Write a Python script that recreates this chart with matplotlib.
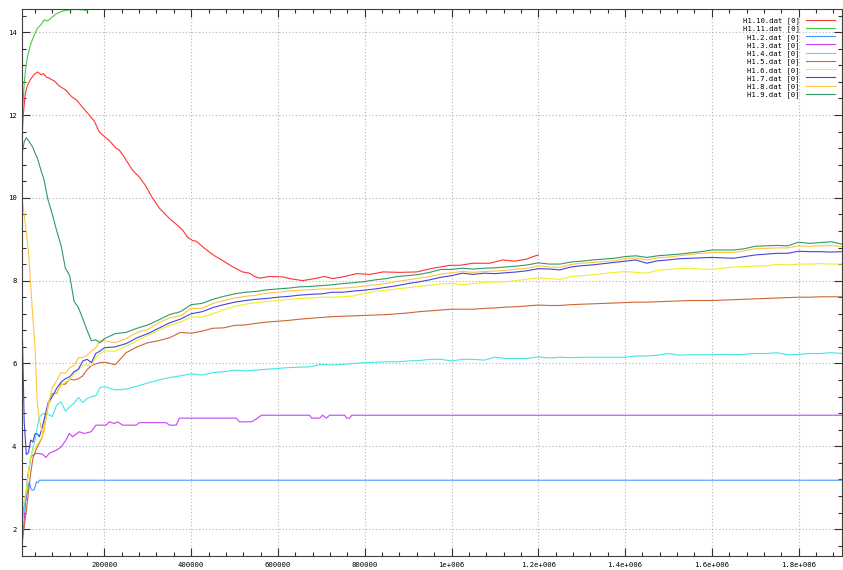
import numpy as np
import matplotlib
matplotlib.use("Agg")
import matplotlib.pyplot as plt
from matplotlib.ticker import MultipleLocator

# ---------------- data ----------------
# shared sampling grid for the bundle series
X = np.concatenate([np.arange(10000, 60001, 5000),
                    np.arange(70000, 200001, 10000),
                    np.arange(225000, 1900001, 25000)])

h17 = [7.15, 4.6, 3.8, 3.85, 4.15, 4.1, 4.3, 4.3, 4.23, 4.4, 4.6,
       5.05, 5.2, 5.4, 5.55, 5.63, 5.68, 5.8, 5.86, 6.06, 6.1, 6.02, 6.24, 6.3, 6.38,
       6.4, 6.48, 6.62, 6.72, 6.85, 6.98, 7.07, 7.2, 7.25, 7.35,
       7.42, 7.48, 7.52, 7.55, 7.57, 7.6, 7.62, 7.65, 7.67, 7.68,
       7.72, 7.72, 7.75, 7.77, 7.8, 7.84, 7.88, 7.93, 7.97, 8.02,
       8.08, 8.12,
       8.18, 8.15, 8.18, 8.17, 8.19, 8.21, 8.24, 8.29,
       8.28, 8.26, 8.33, 8.36, 8.38, 8.41, 8.44, 8.47,
       8.5, 8.42, 8.48, 8.5, 8.53, 8.54, 8.55, 8.56,
       8.55, 8.54, 8.58, 8.62, 8.64, 8.66, 8.66, 8.71,
       8.7, 8.7, 8.69, 8.7]

h19 = [11.05, 11.35, 11.45, 11.38, 11.3, 11.22, 11.08, 10.97, 10.8, 10.62, 10.47,
       9.95, 9.6, 9.2, 8.85, 8.3, 8.12, 7.5, 7.35, 7.08, 6.8, 6.55, 6.57, 6.5, 6.6,
       6.72, 6.75, 6.85, 6.93, 7.05, 7.18, 7.25, 7.42, 7.45, 7.55,
       7.62, 7.68, 7.72, 7.74, 7.78, 7.8, 7.82, 7.85, 7.86, 7.88,
       7.9, 7.93, 7.95, 7.98, 8.02, 8.05, 8.1, 8.12, 8.15, 8.2,
       8.27, 8.27,
       8.3, 8.28, 8.3, 8.31, 8.33, 8.35, 8.38, 8.43,
       8.4, 8.4, 8.45, 8.47, 8.5, 8.52, 8.54, 8.58,
       8.6, 8.56, 8.6, 8.62, 8.64, 8.67, 8.7, 8.74,
       8.74, 8.74, 8.77, 8.83, 8.84, 8.85, 8.84, 8.93,
       8.9, 8.92, 8.94, 8.88]

h18 = [9.98, 9.6, 9.15, 8.7, 7.9, 7.1, 6.4, 5.1, 4.65, 4.4, 4.3,
       5.0, 5.42, 5.58, 5.78, 5.76, 5.9, 5.95, 6.14, 6.14, 6.2, 6.3, 6.38, 6.55, 6.55,
       6.5, 6.6, 6.75, 6.82, 6.98, 7.1, 7.15, 7.33, 7.33, 7.45,
       7.52, 7.58, 7.62, 7.65, 7.7, 7.72, 7.75, 7.77, 7.78, 7.8,
       7.8, 7.82, 7.84, 7.87, 7.9, 7.93, 7.98, 8.02, 8.06, 8.1,
       8.16, 8.19,
       8.22, 8.2, 8.22, 8.23, 8.25, 8.28, 8.3, 8.36,
       8.33, 8.32, 8.39, 8.42, 8.44, 8.46, 8.48, 8.53,
       8.55, 8.5, 8.55, 8.57, 8.6, 8.63, 8.66, 8.68,
       8.68, 8.68, 8.72, 8.77, 8.78, 8.79, 8.79, 8.84,
       8.83, 8.84, 8.85, 8.82]

h16 = [2.45, 2.7, 2.9, 3.4, 3.75, 3.9, 3.95, 4.05, 4.12, 4.2, 4.4,
       4.95, 5.25, 5.3, 5.48, 5.55, 5.6, 5.75, 5.85, 5.96, 5.96, 5.95, 6.15, 6.24, 6.3,
       6.3, 6.42, 6.55, 6.68, 6.8, 6.92, 7.0, 7.12, 7.12, 7.2,
       7.3, 7.38, 7.43, 7.47, 7.5, 7.52, 7.55, 7.57, 7.58, 7.6,
       7.6, 7.61, 7.63, 7.7, 7.74, 7.77, 7.8, 7.83, 7.86, 7.89,
       7.92, 7.93,
       7.9, 7.93, 7.96, 7.97, 7.97, 8.0, 8.04, 8.07,
       8.05, 8.03, 8.1, 8.12, 8.14, 8.17, 8.2, 8.22,
       8.2, 8.18, 8.25, 8.27, 8.29, 8.3, 8.28, 8.27,
       8.3, 8.33, 8.34, 8.35, 8.36, 8.39, 8.38, 8.4,
       8.4, 8.41, 8.4, 8.4]

h15 = [1.7, 2.05, 2.45, 2.9, 3.35, 3.7, 3.85, 3.98, 4.08, 4.18, 4.4,
       4.98, 5.27, 5.28, 5.5, 5.5, 5.62, 5.6, 5.63, 5.7, 5.85, 5.95, 5.99, 6.02, 6.03,
       5.97, 6.26, 6.4, 6.5, 6.55, 6.62, 6.75, 6.73, 6.78, 6.85,
       6.86, 6.92, 6.93, 6.97, 7.0, 7.02, 7.04, 7.07, 7.09, 7.11,
       7.13, 7.14, 7.15, 7.16, 7.17, 7.18, 7.2, 7.22, 7.25, 7.27,
       7.29, 7.31,
       7.31, 7.31, 7.33, 7.34, 7.36, 7.37, 7.39, 7.41,
       7.4, 7.4, 7.42, 7.43, 7.44, 7.45, 7.46, 7.47,
       7.48, 7.48, 7.49, 7.5, 7.51, 7.52, 7.52, 7.52,
       7.53, 7.54, 7.55, 7.56, 7.57, 7.58, 7.59, 7.6,
       7.6, 7.61, 7.61, 7.61]

h14 = [2.1, 2.5, 2.95, 3.35, 3.7, 3.95, 4.15, 4.45, 4.7, 4.76, 4.79,
       4.77, 4.72, 5.0, 5.07, 4.85, 4.95, 5.04, 5.18, 5.06, 5.15, 5.2, 5.22, 5.42, 5.44,
       5.36, 5.38, 5.45, 5.53, 5.6, 5.66, 5.7, 5.75, 5.72, 5.78,
       5.8, 5.84, 5.82, 5.84, 5.86, 5.88, 5.9, 5.91, 5.92, 5.98,
       5.96, 5.98, 6.0, 6.02, 6.03, 6.04, 6.04, 6.06, 6.07, 6.1,
       6.1, 6.06,
       6.1, 6.1, 6.08, 6.15, 6.12, 6.12, 6.12, 6.16,
       6.13, 6.15, 6.14, 6.15, 6.15, 6.15, 6.15, 6.15,
       6.18, 6.18, 6.2, 6.24, 6.2, 6.21, 6.21, 6.21,
       6.22, 6.21, 6.22, 6.24, 6.24, 6.26, 6.21, 6.22,
       6.24, 6.24, 6.26, 6.24]

# series with their own sampling
x110 = [10000, 12800, 17400, 22000, 29000, 38200, 45800, 54400, 59000, 65900,
        72800, 84400, 95900, 111400, 123600, 137000, 149000, 165100, 176700, 188200,
        199800, 211300, 226800, 234400, 245900, 264400, 280500, 294400, 310500, 326700,
        349800, 363600, 380500, 391300, 402800, 412100, 430600, 453700, 472100, 492900,
        518300, 534400, 546000, 557500, 580600, 610600, 626800, 656800, 684500, 707600,
        726100, 753800, 781500, 811500, 841500, 880700, 919900, 956900, 996200, 1019000,
        1049000, 1088000, 1118000, 1146000, 1173000, 1188000, 1200000]
h110 = [11.4, 12.0, 12.5, 12.7, 12.85, 12.98, 13.04, 12.97, 13.0, 12.92,
        12.89, 12.82, 12.7, 12.6, 12.45, 12.35, 12.19, 12.0, 11.85, 11.59,
        11.48, 11.38, 11.2, 11.15, 10.98, 10.67, 10.5, 10.3, 10.0, 9.75,
        9.5, 9.38, 9.22, 9.05, 8.97, 8.95, 8.78, 8.6, 8.49, 8.35,
        8.21, 8.18, 8.1, 8.06, 8.1, 8.09, 8.05, 8.0, 8.05, 8.1,
        8.05, 8.1, 8.17, 8.15, 8.21, 8.2, 8.21, 8.3, 8.37, 8.37,
        8.42, 8.42, 8.5, 8.47, 8.52, 8.58, 8.62]

x111 = [10000, 12800, 15100, 19000, 22700, 30600, 38200, 45800, 53700, 61300,
        68900, 76700, 88300, 103500, 119000, 134400, 149700, 161200]
h111 = [11.8, 12.36, 12.77, 13.17, 13.41, 13.73, 13.93, 14.1, 14.18, 14.3,
        14.27, 14.34, 14.44, 14.51, 14.54, 14.55, 14.54, 14.52]

x12 = [10000, 15000, 19000, 26700, 30600, 33000, 38000, 43500, 47000, 50000, 1900000]
h12 = [2.35, 2.55, 2.7, 3.14, 2.98, 2.94, 2.95, 3.14, 3.12, 3.18, 3.18]

x13 = [10000, 15000, 22700, 30600, 42100, 57400, 65200, 72800, 88300, 99800,
       111400, 119000, 126600, 142000, 153600, 169100, 180600, 203700, 211300, 222800,
       230500, 242000, 272900, 280500, 342200, 350000, 365200, 372900, 503700, 511300,
       539000, 552900, 562100, 672900, 677500, 695900, 702900, 711400, 719000, 753700,
       758300, 765200, 769800, 1900000]
h13 = [1.55, 2.2, 3.26, 3.75, 3.83, 3.81, 3.73, 3.83, 3.9, 3.98,
       4.15, 4.31, 4.23, 4.35, 4.31, 4.35, 4.51, 4.51, 4.59, 4.55,
       4.59, 4.51, 4.51, 4.57, 4.57, 4.51, 4.51, 4.68, 4.68, 4.59,
       4.59, 4.68, 4.75, 4.75, 4.68, 4.68, 4.75, 4.68, 4.75, 4.75,
       4.68, 4.68, 4.75, 4.75]

labels = ["H1.10.dat [0]", "H1.11.dat [0]", "H1.2.dat [0]", "H1.3.dat [0]",
          "H1.4.dat [0]", "H1.5.dat [0]", "H1.6.dat [0]", "H1.7.dat [0]",
          "H1.8.dat [0]", "H1.9.dat [0]"]
colors = ["#ff3333", "#44cc44", "#4499ff", "#c444f4", "#44e6e6",
          "#cc6633", "#eeee22", "#4444dd", "#ffc444", "#339966"]

xticks = [200000, 400000, 600000, 800000, 1000000, 1200000, 1400000, 1600000, 1800000]
xticklabels = ["200000", "400000", "600000", "800000", "1e+006",
               "1.2e+006", "1.4e+006", "1.6e+006", "1.8e+006"]
yticks = [2, 4, 6, 8, 10, 12, 14]
yticklabels = ["2", "4", "6", "8", "10", "12", "14"]

# ---------------- plot ----------------
mono = "DejaVu Sans Mono"
fig = plt.figure(figsize=(8.43, 5.70), dpi=100)
ax = fig.add_axes([22 / 843, 14 / 570, 820 / 843, 547 / 570])

series = [(x110, h110), (x111, h111), (x12, h12), (x13, h13), (X, h14),
          (X, h15), (X, h16), (X, h17), (X, h18), (X, h19)]
for (xs, ys), lab, col in zip(series, labels, colors):
    ax.plot(xs, ys, color=col, lw=0.8, label=lab)

ax.set_xlim(10000, 1900000)
ax.set_ylim(1.35, 14.56)
ax.set_xticks(xticks)
ax.set_xticklabels(xticklabels, fontfamily=mono, fontsize=5.2)
ax.set_yticks(yticks)
ax.set_yticklabels(yticklabels, fontfamily=mono, fontsize=5.2)
ax.xaxis.set_minor_locator(MultipleLocator(40000))
ax.yaxis.set_minor_locator(MultipleLocator(0.4))
ax.tick_params(which="both", direction="in", top=True, right=True,
               color="#303030", width=0.8)
ax.tick_params(which="major", length=6)
ax.tick_params(axis="x", which="major", pad=4)
ax.tick_params(axis="y", which="major", pad=4)
ax.tick_params(which="minor", length=3)
ax.grid(which="major", color="#b4b4b4", linestyle=(0, (1, 2)), linewidth=0.8)
for s in ax.spines.values():
    s.set_color("#404040")
    s.set_linewidth(0.8)

ax.legend(loc="upper right", bbox_to_anchor=(0.9915, 0.985),
          bbox_transform=ax.transAxes, frameon=False, markerfirst=False,
          prop={"family": mono, "size": 5.2}, handlelength=4.0,
          handletextpad=0.9, labelspacing=0.2, borderpad=0, borderaxespad=0)

fig.savefig("out.png", dpi=100)
